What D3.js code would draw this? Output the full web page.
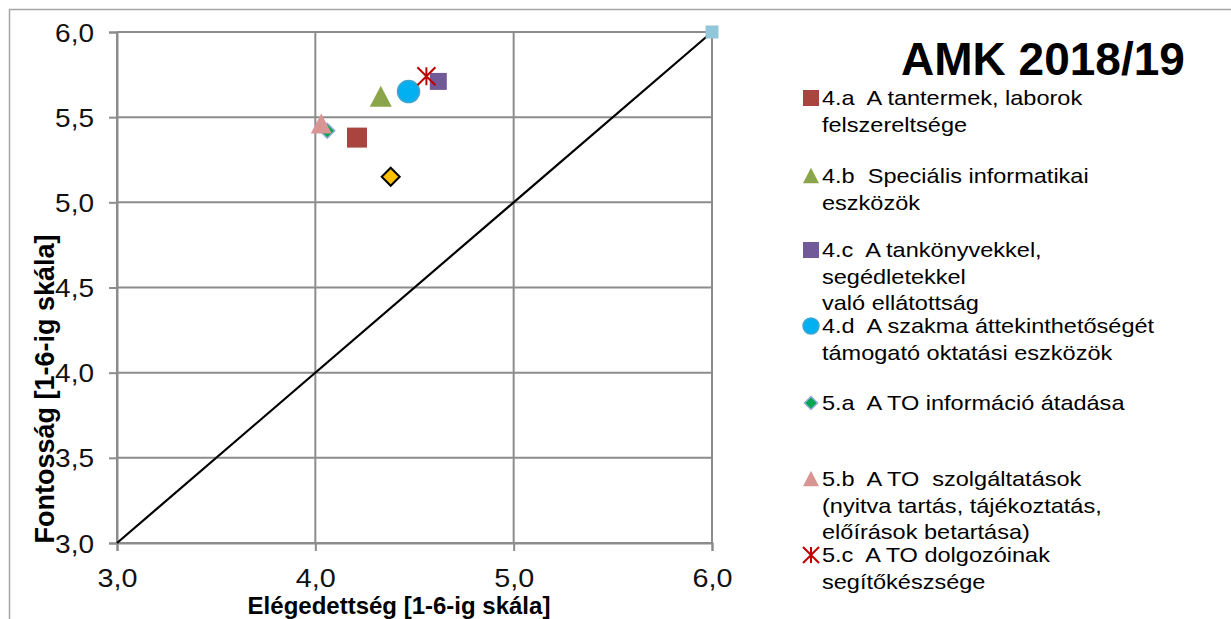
<!DOCTYPE html>
<html><head><meta charset="utf-8">
<script src="https://cdn.jsdelivr.net/npm/d3@7"></script>
<style>body{margin:0;background:#fff;}svg{display:block;font-family:"Liberation Sans",Arial,sans-serif;}</style>
</head><body>
<svg id="c" width="1231" height="619"></svg>
<script>
const title = "AMK 2018/19";
const xTitle = "Elégedettség [1-6-ig skála]";
const yTitle = "Fontosság [1-6-ig skála]";
const xTicks = [3, 4, 5, 6];
const yTicks = [3, 3.5, 4, 4.5, 5, 5.5, 6];
const seriesNames = [
  ["4.a  A tantermek, laborok", "felszereltsége"],
  ["4.b  Speciális informatikai", "eszközök"],
  ["4.c  A tankönyvekkel,", "segédletekkel", "való ellátottság"],
  ["4.d  A szakma áttekinthetőségét", "támogató oktatási eszközök"],
  ["5.a  A TO információ átadása"],
  ["5.b  A TO  szolgáltatások", "(nyitva tartás, tájékoztatás,", "előírások betartása)"],
  ["5.c  A TO dolgozóinak", "segítőkészsége"]
];
const seriesX = [4.21, 4.33, 4.62, 4.47, 4.06, 4.03, 4.56];
const seriesY = [5.38, 5.62, 5.71, 5.65, 5.42, 5.46, 5.74];
const seriesShape = ["square", "triangle", "square", "circle", "diamond", "triangle", "star"];
const seriesFill = ["#a9443f", "#8aa54a", "#725a98", "#00b0f0", "#00a651", "#d99594", "#c00000"];
const seriesStroke = ["none", "none", "none", "#3ea6d0", "#93a9d6", "none", "#c00000"];
const seriesSize = [20, 22, 17, 22, 13, 21, 18];
const extraX = [4.38];
const extraY = [5.15];
const diagX = [3, 6];
const diagY = [3, 6];

const svg = d3.select("#c");
const x = d3.scaleLinear().domain([3, 6]).range([117, 712]);
const y = d3.scaleLinear().domain([3, 6]).range([543, 32]);
const fmt = d => d.toFixed(1).replace(".", ",");

function stretch(sel, f) {
  sel.each(function () {
    const w = this.getComputedTextLength();
    d3.select(this).attr("textLength", w * f).attr("lengthAdjust", "spacingAndGlyphs");
  });
  return sel;
}

// outer border
svg.append("path").attr("d", "M9.5,640 V9.5 H1240").attr("fill", "none").attr("stroke", "#a6a6a6").attr("stroke-width", 1.5);

// gridlines
const grid = svg.append("g");
xTicks.forEach(t => grid.append("line").attr("x1", x(t)).attr("x2", x(t)).attr("y1", y(6)).attr("y2", y(3)).attr("stroke", "#8c8c8c").attr("stroke-width", 2));
yTicks.forEach(t => grid.append("line").attr("x1", x(3)).attr("x2", x(6)).attr("y1", y(t)).attr("y2", y(t)).attr("stroke", "#8c8c8c").attr("stroke-width", 2));

// axes
const xa = svg.append("g").attr("transform", `translate(0,${y(3)})`)
  .call(d3.axisBottom(x).tickValues(xTicks).tickFormat(fmt).tickSize(8).tickPadding(10));
const ya = svg.append("g").attr("transform", `translate(${x(3)},0)`)
  .call(d3.axisLeft(y).tickValues(yTicks).tickFormat(fmt).tickSize(8).tickPadding(15));
[xa, ya].forEach(a => {
  a.select(".domain").attr("stroke", "#8c8c8c").attr("stroke-width", 2);
  a.selectAll(".tick line").attr("stroke", "#8c8c8c").attr("stroke-width", 2);
  a.selectAll("text").attr("font-size", 25).attr("fill", "#111").attr("font-family", "Liberation Sans, Arial, sans-serif");
});
ya.selectAll("text").attr("dy", "0.36em");
xa.selectAll("text").attr("dy", 0).attr("y", 44);
stretch(xa.selectAll("text"), 1.15);
stretch(ya.selectAll("text"), 1.12);

// diagonal
svg.append("path").attr("d", d3.line().x(d => x(d[0])).y(d => y(d[1]))(diagX.map((v, i) => [v, diagY[i]])))
  .attr("stroke", "#000").attr("stroke-width", 2.2).attr("fill", "none");
svg.append("rect").attr("x", x(diagX[1]) - 6.5).attr("y", y(diagY[1]) - 6.5).attr("width", 13).attr("height", 13).attr("fill", "#92c6da");

function marker(g, shape, cx, cy, size, fill, stroke) {
  let p;
  if (shape === "square") p = g.append("rect").attr("x", cx - size / 2).attr("y", cy - size / 2).attr("width", size).attr("height", size);
  else if (shape === "circle") p = g.append("circle").attr("cx", cx).attr("cy", cy).attr("r", size / 2);
  else if (shape === "triangle") { const h = size * 0.9; p = g.append("path").attr("d", `M${cx},${cy - h / 2 - 1}L${cx + size / 2},${cy + h / 2}L${cx - size / 2},${cy + h / 2}Z`); }
  else if (shape === "diamond") { const s = size / 2 + 1; p = g.append("path").attr("d", `M${cx},${cy - s}L${cx + s},${cy}L${cx},${cy + s}L${cx - s},${cy}Z`); }
  else if (shape === "star") {
    const s = size / 2;
    p = g.append("path").attr("d", `M${cx - s},${cy - s}L${cx + s},${cy + s}M${cx - s},${cy + s}L${cx + s},${cy - s}M${cx},${cy - s}L${cx},${cy + s}`)
      .attr("stroke-width", 2);
    return p.attr("stroke", stroke).attr("fill", "none");
  }
  p.attr("fill", fill);
  if (stroke !== "none") p.attr("stroke", stroke).attr("stroke-width", 1.5);
  return p;
}

// extra yellow diamond
const mg = svg.append("g");
extraX.forEach((v, i) => {
  const cx = x(v), cy = y(extraY[i]), s = 9;
  mg.append("path").attr("d", `M${cx},${cy - s}L${cx + s},${cy}L${cx},${cy + s}L${cx - s},${cy}Z`).attr("fill", "#ffc000").attr("stroke", "#000").attr("stroke-width", 2);
});
// series markers in drawing order
const order = [0, 4, 1, 2, 3, 6, 5];
order.forEach(i => marker(mg, seriesShape[i], x(seriesX[i]), y(seriesY[i]), seriesSize[i], seriesFill[i], seriesStroke[i]));

// title
svg.append("text").attr("x", 1043).attr("y", 75).attr("text-anchor", "middle").attr("font-size", 46).attr("font-weight", "bold").attr("fill", "#000").text(title);

// axis titles
svg.append("text").attr("x", 399).attr("y", 614).attr("text-anchor", "middle").attr("font-size", 24).attr("font-weight", "bold").text(xTitle);
svg.append("text").attr("transform", "translate(54,389) rotate(-90)").attr("text-anchor", "middle").attr("font-size", 27).attr("font-weight", "bold").text(yTitle);

// legend
const legY = [105, 183, 257, 333, 410, 486, 562];
const lg = svg.append("g");
seriesNames.forEach((lines, i) => {
  marker(lg, seriesShape[i], 811, legY[i] - 7, seriesShape[i] === "diamond" ? 11 : 16, seriesFill[i], seriesStroke[i]);
  lines.forEach((l, j) => {
    const t = lg.append("text").attr("x", 822).attr("y", legY[i] + j * 26.5).attr("font-size", 21).attr("fill", "#000").style("white-space", "pre").text(l);
    stretch(t, 1.12);
  });
});
</script>
</body></html>
